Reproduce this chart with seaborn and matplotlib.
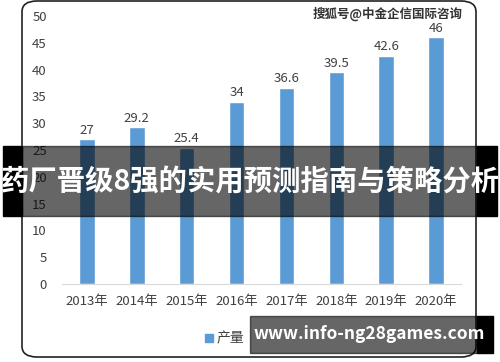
import matplotlib
matplotlib.use('Agg')
import matplotlib.pyplot as plt
import pandas as pd
import seaborn as sns
from matplotlib.patches import FancyBboxPatch, Rectangle

# Data
years = ['2013年', '2014年', '2015年', '2016年', '2017年', '2018年', '2019年', '2020年']
output = [27, 29.2, 25.4, 34, 36.6, 39.5, 42.6, 46]
yticks = [0, 5, 10, 15, 20, 25, 30, 35, 40, 45, 50]
series_name = '产量'
watermark = '搜狐号@中金企信国际咨询'
banner = '药厂晋级8强的实用预测指南与策略分析'
site = 'www.info-ng28games.com'

sns.set_style('white')
plt.rcParams['font.family'] = ['Noto Sans CJK SC', 'DejaVu Sans']

W, H = 500, 362
fig = plt.figure(figsize=(5, 3.62), dpi=100)

def fx(px):
    return px / W

def fy(py):
    return 1 - py / H

# rounded frame of the chart
frame = FancyBboxPatch((fx(22), fy(357)), fx(476) - fx(22), fy(1) - fy(357),
                       boxstyle='round,pad=0,rounding_size=0.03',
                       transform=fig.transFigure, facecolor='white',
                       edgecolor='#222222', linewidth=1.2, zorder=-1)
fig.patches.append(frame)

ax = fig.add_axes([fx(62), fy(284), fx(461) - fx(62), fy(16) - fy(284)])
ax.patch.set_alpha(0)

df = pd.DataFrame({'year': years, 'value': output})
sns.barplot(data=df, x='year', y='value', color='#5B9BD5', width=0.31,
            saturation=1, ax=ax)
ax.bar_label(ax.containers[0], labels=[f'{v:g}' for v in output],
             padding=2, fontsize=9.5, color='#404040')

ax.set_ylim(0, 50)
ax.set_xlim(-0.5, len(years) - 0.5)
ax.set_yticks(yticks)
ax.set_xlabel('')
ax.set_ylabel('')
for s in ['top', 'right', 'left']:
    ax.spines[s].set_visible(False)
ax.spines['bottom'].set_color('#D9D9D9')
ax.tick_params(axis='both', length=0, labelsize=9.5, colors='#404040')
ax.tick_params(axis='x', pad=8)
ax.tick_params(axis='y', pad=11)

# legend
fig.patches.append(Rectangle((fx(205), fy(342)), fx(8), fy(334) - fy(342),
                             transform=fig.transFigure, color='#5B9BD5'))
fig.text(fx(217), fy(338), series_name, fontsize=10, color='#404040',
         va='center', ha='left')

# watermark
fig.text(fx(463), fy(14), watermark, fontsize=9, color='#333333',
         fontweight='bold', ha='right', va='center')

# banner across the middle
fig.patches.append(Rectangle((fx(3), fy(216)), fx(22) - fx(3), fy(146) - fy(216),
                             transform=fig.transFigure, color='black', zorder=5))
fig.patches.append(Rectangle((fx(477), fy(216)), fx(497) - fx(477), fy(146) - fy(216),
                             transform=fig.transFigure, color='black', zorder=5))
fig.patches.append(Rectangle((fx(22), fy(216)), fx(477) - fx(22), fy(146) - fy(216),
                             transform=fig.transFigure, color='black', alpha=0.6, zorder=5))
fig.text(0.5, fy(182), banner, fontsize=20.4, color='white', fontweight='heavy',
         ha='center', va='center', zorder=6)

# site box at the bottom right
fig.patches.append(Rectangle((fx(250), fy(353)), fx(477) - fx(250), fy(316) - fy(353),
                             transform=fig.transFigure, color='black', alpha=0.6, zorder=5))
fig.patches.append(Rectangle((fx(477), fy(353)), fx(493) - fx(477), fy(316) - fy(353),
                             transform=fig.transFigure, color='black', zorder=5))
fig.text(fx(369), fy(334), site, fontsize=12.5, color='white', fontweight='bold',
         ha='center', va='center', zorder=6)

fig.savefig('out.png', dpi=100)
